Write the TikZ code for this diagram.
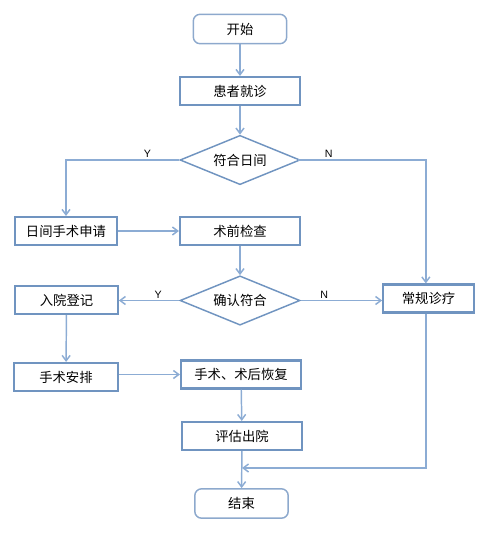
\documentclass[tikz,border=0pt]{standalone}
\usepackage{fontspec}
\setmainfont{Noto Sans CJK SC}
\newfontfamily\latinfont{Liberation Sans}
\usetikzlibrary{shapes.geometric,arrows.meta}
\definecolor{boxblue}{RGB}{112,148,192}
\definecolor{lineblue}{RGB}{140,172,212}

\begin{document}
\begin{tikzpicture}[x=0.75pt, y=-0.75pt,
    every node/.style={font=\fontsize{10}{12}\selectfont},
    stepbox/.style={rectangle, draw=boxblue, line width=1.6pt, minimum width=#1, minimum height=21pt, inner sep=0pt},
    endbox/.style={rectangle, rounded corners=5pt, draw=boxblue!80, line width=1.1pt, minimum width=70pt, minimum height=22pt, inner sep=0pt},
    choice/.style={diamond, aspect=2.4, draw=boxblue, line width=1.1pt, minimum width=90pt, minimum height=37pt, inner sep=0pt},
    flow/.style={draw=lineblue, line width=1.1pt, -{Straight Barb[length=4pt, width=6pt]}},
    tag/.style={font=\latinfont\fontsize{8}{9}\selectfont, above, inner sep=1pt}]
    \useasboundingbox (0,0) rectangle (496,536);
    % Nodes
    \node (start) at (240, 29) [endbox] {开始};
    \node (visit) at (240, 91) [stepbox=90pt] {患者就诊};
    \node (dec1) at (240, 160) [choice] {符合日间};
    \node (apply) at (66, 231) [stepbox=77pt] {日间手术申请};
    \node (check) at (240, 231) [stepbox=90pt] {术前检查};
    \node (dec2) at (240, 300.5) [choice] {确认符合};
    \node (admit) at (66.5, 300) [stepbox=77pt] {入院登记};
    \node (normal) at (428.5, 298.5) [stepbox=68pt] {常规诊疗};
    \node (arrange) at (66, 377) [stepbox=78pt] {手术安排};
    \node (surgery) at (241, 374.5) [stepbox=90pt] {手术、术后恢复};
    \node (assess) at (242, 436) [stepbox=90pt] {评估出院};
    \node (end) at (241.5, 503.5) [endbox] {结束};
    \coordinate (merge) at (242, 468);
    % Edges
    \draw[flow] (start) -- (visit);
    \draw[flow] (visit) -- (dec1);
    \draw[flow] (dec1.west) -| (apply.north) node[tag, pos=0.14] {Y};
    \draw[flow] ([xshift=-2pt]dec1.east) -| ([xshift=-2pt]normal.north) node[tag, pos=0.12] {N};
    \draw[flow] (apply) -- (check);
    \draw[flow] (check) -- (dec2);
    \draw[flow] (dec2.west) -- (admit.east |- dec2.west) node[tag, pos=0.35] {Y};
    \draw[flow] (dec2.east) -- (normal.west |- dec2.east) node[tag, pos=0.29] {N};
    \draw[flow] (admit) -- (arrange);
    \draw[flow] (arrange.east |- surgery.west) -- (surgery.west);
    \draw[flow] (surgery) -- (assess);
    \draw[flow] (assess) -- (end);
    \draw[flow] ([xshift=-2pt]normal.south) |- (merge);
\end{tikzpicture}
\end{document}
